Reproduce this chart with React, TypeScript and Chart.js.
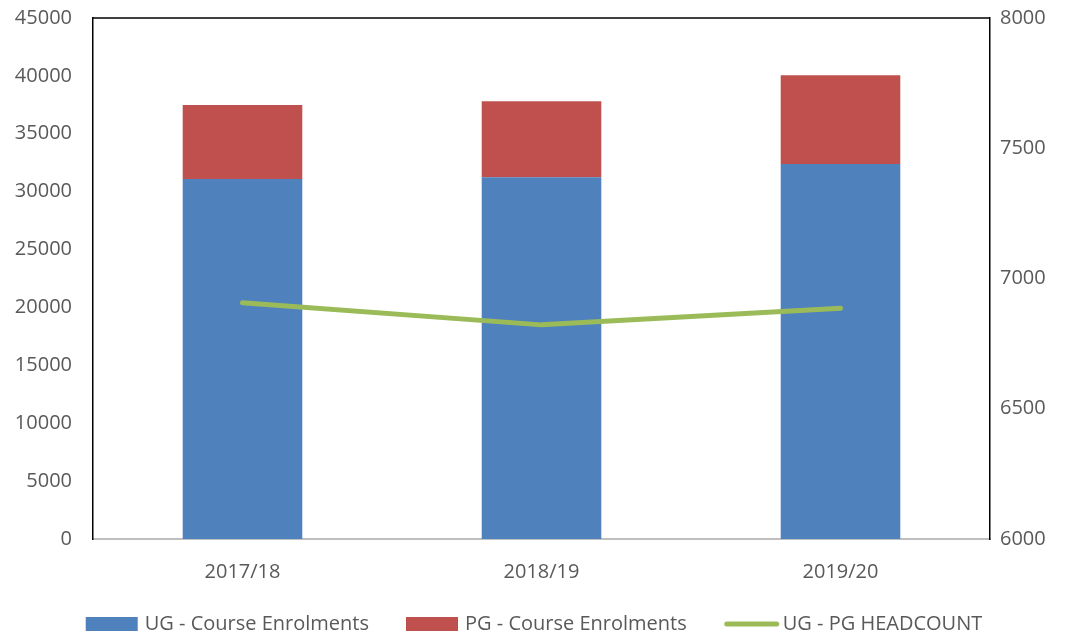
import React, { useEffect, useRef } from "react";
import { Chart, registerables } from "chart.js";
Chart.register(...registerables);

const categories = ["2017/18", "2018/19", "2019/20"];
const ugEnrolments = [31090, 31240, 32390];
const pgEnrolments = [6390, 6560, 7660];
const headcount = [6907, 6822, 6886];
const leftMin = 0;
const leftMax = 45000;
const leftStep = 5000;
const rightMin = 6000;
const rightMax = 8000;
const rightStep = 500;
const seriesNames = ["UG - Course Enrolments", "PG - Course Enrolments", "UG - PG HEADCOUNT"];
const colors = ["#4F81BD", "#C0504D", "#9BBB59"];

const FONT = "'Open Sans', sans-serif";
const TEXT = "#595959";
const FS = 20;

const framePlugin = {
  id: "frame",
  afterDraw(chart: any) {
    const { ctx, chartArea } = chart;
    ctx.save();
    ctx.strokeStyle = "#000";
    ctx.lineWidth = 1.5;
    ctx.beginPath();
    ctx.moveTo(chartArea.left, chartArea.top);
    ctx.lineTo(chartArea.right, chartArea.top);
    ctx.stroke();

    // legend
    ctx.font = `${FS}px ${FONT}`;
    ctx.textBaseline = "middle";
    ctx.fillStyle = TEXT;
    const boxW = 52;
    const gapBox = 7;
    const gapItem = 37;
    const widths = seriesNames.map((n) => boxW + gapBox + ctx.measureText(n).width);
    const total = widths.reduce((a, b) => a + b, 0) + gapItem * (seriesNames.length - 1);
    let x = (chart.width - total) / 2;
    const yc = 624;
    seriesNames.forEach((name, i) => {
      if (i < 2) {
        ctx.fillStyle = colors[i];
        ctx.fillRect(x, yc - 7, boxW, 14);
      } else {
        ctx.strokeStyle = colors[i];
        ctx.lineWidth = 5;
        ctx.lineCap = "round";
        ctx.beginPath();
        ctx.moveTo(x + 3, yc);
        ctx.lineTo(x + boxW + 1, yc);
        ctx.stroke();
      }
      ctx.fillStyle = TEXT;
      ctx.fillText(name, x + boxW + gapBox, yc);
      x += widths[i] + gapItem;
    });
    ctx.restore();
  },
};

const plain = (v: any) => String(v);
const fixY = (w: number) => (s: any) => {
  s.width = w;
  s.paddingTop = 0;
  s.paddingBottom = 0;
};

export default function App() {
  const ref = useRef<HTMLCanvasElement | null>(null);
  useEffect(() => {
    if (!ref.current) return;
    const chart = new Chart(ref.current, {
      type: "bar",
      data: {
        labels: categories,
        datasets: [
          {
            type: "line",
            label: seriesNames[2],
            data: headcount,
            yAxisID: "y1",
            borderColor: colors[2],
            backgroundColor: colors[2],
            borderWidth: 5,
            pointRadius: 0,
            borderCapStyle: "round",
            borderJoinStyle: "round",
            tension: 0,
            order: 0,
          } as any,
          {
            type: "bar",
            label: seriesNames[0],
            data: ugEnrolments,
            yAxisID: "y",
            backgroundColor: colors[0],
            barPercentage: 0.4,
            categoryPercentage: 1,
            stack: "s",
            order: 1,
          },
          {
            type: "bar",
            label: seriesNames[1],
            data: pgEnrolments,
            yAxisID: "y",
            backgroundColor: colors[1],
            barPercentage: 0.4,
            categoryPercentage: 1,
            stack: "s",
            order: 1,
          },
        ],
      },
      options: {
        animation: false,
        responsive: false,
        maintainAspectRatio: false,
        layout: { padding: { top: 18, left: 0, right: 0, bottom: 46 } },
        plugins: { legend: { display: false }, tooltip: { enabled: false } },
        scales: {
          x: {
            stacked: true,
            grid: { display: false, drawTicks: false },
            border: { color: "#BFBFBF", width: 2 },
            ticks: { color: TEXT, font: { family: FONT, size: FS }, padding: 21 },
            afterFit: (s: any) => {
              s.height = 50;
              s.paddingLeft = 0;
              s.paddingRight = 0;
            },
          },
          y: {
            position: "left",
            stacked: true,
            min: leftMin,
            max: leftMax,
            grid: { display: false, drawTicks: false },
            border: { color: "#000", width: 1.5 },
            ticks: { stepSize: leftStep, color: TEXT, font: { family: FONT, size: FS }, padding: 21, callback: plain },
            afterFit: fixY(93),
          },
          y1: {
            position: "right",
            min: rightMin,
            max: rightMax,
            grid: { display: false, drawTicks: false },
            border: { color: "#000", width: 1.5 },
            ticks: { stepSize: rightStep, color: TEXT, font: { family: FONT, size: FS }, padding: 10, callback: plain },
            afterFit: fixY(78),
          },
        },
      },
      plugins: [framePlugin],
    });
    return () => chart.destroy();
  }, []);
  return (
    <div style={{ position: "absolute", left: 0, top: 0, width: 1068, height: 635, background: "#fff" }}>
      <canvas ref={ref} width={1068} height={635} style={{ display: "block" }} />
    </div>
  );
}
